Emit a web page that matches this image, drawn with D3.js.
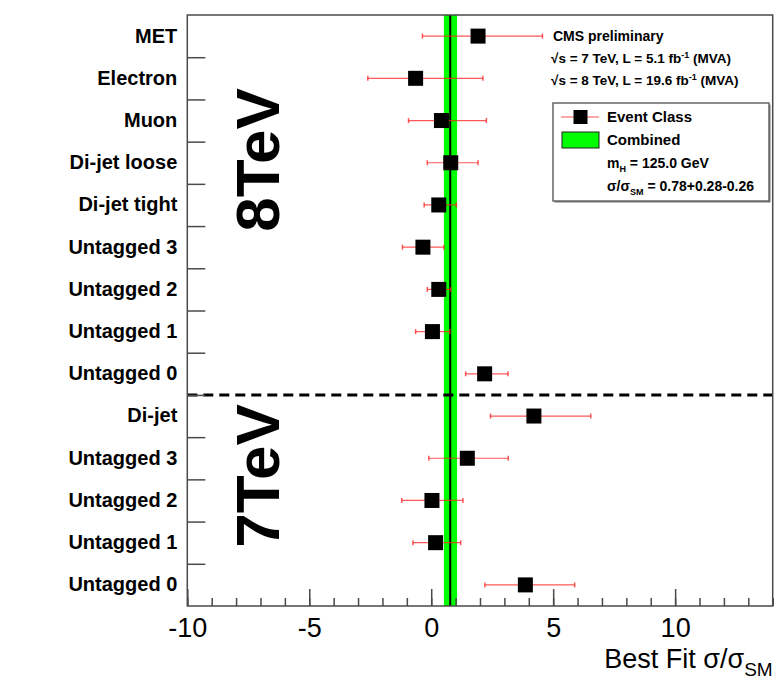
<!DOCTYPE html>
<html>
<head>
<meta charset="utf-8">
<script src="https://cdn.jsdelivr.net/npm/d3@7"></script>
<style>
  html, body { margin: 0; padding: 0; background: #fff; }
  svg { display: block; font-family: "Liberation Sans", Arial, Helvetica, sans-serif; }
</style>
</head>
<body>
<div id="chart"></div>
<script>
/* Best-fit signal strength per event class, 8 TeV block on top, 7 TeV below */
var categories = ['MET', 'Electron', 'Muon', 'Di-jet loose', 'Di-jet tight',
  'Untagged 3', 'Untagged 2', 'Untagged 1', 'Untagged 0',
  'Di-jet', 'Untagged 3', 'Untagged 2', 'Untagged 1', 'Untagged 0'];
var bestFit = [1.92, -0.64, 0.42, 0.80, 0.31, -0.34, 0.31, 0.05, 2.19,
  4.21, 1.48, 0.03, 0.18, 3.86];
var errLow = [-0.36, -2.60, -0.93, -0.16, -0.29, -1.18, -0.16, -0.64, 1.41,
  2.43, -0.10, -1.21, -0.75, 2.20];
var errHigh = [4.56, 2.12, 2.26, 1.92, 1.03, 0.52, 0.80, 0.76, 3.15,
  6.54, 3.16, 1.30, 1.21, 5.88];
var n8TeV = 9;
var combined = { value: 0.78, up: 0.28, down: 0.26 };
var xDomain = [-10, 14];
var majorTicks = [-10, -5, 0, 5, 10];
var majorLabels = ['-10', '-5', '0', '5', '10'];
var minorTicks = d3.range(-10, 15, 1);

(function () {
  'use strict';
  var W = 780, H = 697;
  var m = { top: 15, right: 7.3, bottom: 91, left: 187.3 };
  var iw = W - m.left - m.right, ih = H - m.top - m.bottom;
  var FRAME = '#4a4a4a';

  var svg = d3.select('#chart').append('svg').attr('width', W).attr('height', H);
  var g = svg.append('g').attr('transform', 'translate(' + m.left + ',' + m.top + ')');

  var x = d3.scaleLinear().domain(xDomain).range([0, iw]);
  var idx = d3.range(categories.length);
  var y = d3.scaleBand().domain(idx).range([0, ih]);
  var yb = d3.scaleLinear().domain([0, categories.length]).range([0, ih]);

  /* combined band */
  g.append('rect')
    .attr('x', x(combined.value - combined.down)).attr('y', 0)
    .attr('width', x(combined.value + combined.up) - x(combined.value - combined.down))
    .attr('height', ih).attr('fill', '#00ff00');
  g.append('line')
    .attr('x1', x(combined.value)).attr('x2', x(combined.value))
    .attr('y1', 0).attr('y2', ih)
    .attr('stroke', '#000').attr('stroke-width', 2);

  /* 8TeV / 7TeV separator */
  g.append('line')
    .attr('x1', 0).attr('x2', iw)
    .attr('y1', yb(n8TeV)).attr('y2', yb(n8TeV))
    .attr('stroke', '#000').attr('stroke-width', 3).attr('stroke-dasharray', '10,6');

  /* big energy labels */
  var bigX = 279 - m.left;
  g.append('text')
    .attr('transform', 'translate(' + bigX + ',' + (160 - m.top) + ') rotate(-90)')
    .attr('text-anchor', 'middle')
    .style('font-size', '62px').style('font-weight', 'bold')
    .text('8TeV');
  g.append('text')
    .attr('transform', 'translate(' + bigX + ',' + (476 - m.top) + ') rotate(-90)')
    .attr('text-anchor', 'middle')
    .style('font-size', '62px').style('font-weight', 'bold')
    .text('7TeV');

  /* error bars */
  var pts = g.append('g').selectAll('g').data(idx).enter().append('g')
    .attr('transform', function (i) { return 'translate(0,' + (y(i) + y.bandwidth() / 2) + ')'; });
  pts.append('line')
    .attr('x1', function (i) { return x(errLow[i]); })
    .attr('x2', function (i) { return x(errHigh[i]); })
    .attr('stroke', '#ff2020').attr('stroke-opacity', 0.75).attr('stroke-width', 1.2);
  pts.append('line')
    .attr('x1', function (i) { return x(errLow[i]); })
    .attr('x2', function (i) { return x(errLow[i]); })
    .attr('y1', -2.5).attr('y2', 2.5)
    .attr('stroke', '#ff2020').attr('stroke-opacity', 0.75).attr('stroke-width', 1.5);
  pts.append('line')
    .attr('x1', function (i) { return x(errHigh[i]); })
    .attr('x2', function (i) { return x(errHigh[i]); })
    .attr('y1', -2.5).attr('y2', 2.5)
    .attr('stroke', '#ff2020').attr('stroke-opacity', 0.75).attr('stroke-width', 1.5);
  pts.append('rect')
    .attr('x', function (i) { return x(bestFit[i]) - 7.5; })
    .attr('y', -7.5).attr('width', 15).attr('height', 15)
    .attr('fill', '#000');

  /* x axis: major and minor ticks pointing inward */
  var xMajor = g.append('g').attr('transform', 'translate(0,' + ih + ')')
    .call(d3.axisBottom(x).tickValues(majorTicks).tickSize(-17).tickPadding(12)
      .tickFormat(function (d, i) { return majorLabels[i]; }));
  var xMinor = g.append('g').attr('transform', 'translate(0,' + ih + ')')
    .call(d3.axisBottom(x).tickValues(minorTicks).tickSize(-8).tickFormat(''));
  [xMajor, xMinor].forEach(function (a) {
    a.select('.domain').remove();
    a.selectAll('.tick line').attr('stroke', FRAME).attr('stroke-width', 1.5);
  });
  xMajor.selectAll('.tick text')
    .style('font-size', '27px').attr('fill', '#000');

  /* y axis: category labels and boundary ticks */
  var yLab = g.append('g')
    .call(d3.axisLeft(y).tickSize(0).tickPadding(10)
      .tickFormat(function (i) { return categories[i]; }));
  yLab.select('.domain').remove();
  yLab.selectAll('.tick text')
    .style('font-size', '20px').style('font-weight', 'bold').attr('fill', '#000');
  var yTick = g.append('g')
    .call(d3.axisLeft(yb).tickValues(d3.range(1, categories.length)).tickSize(-18).tickFormat(''));
  yTick.select('.domain').remove();
  yTick.selectAll('.tick line').attr('stroke', FRAME).attr('stroke-width', 1.5);

  /* frame */
  g.append('rect').attr('width', iw).attr('height', ih)
    .attr('fill', 'none').attr('stroke', FRAME).attr('stroke-width', 1.5);

  /* axis title */
  var title = svg.append('text')
    .attr('x', W - m.right).attr('y', 668)
    .attr('text-anchor', 'end')
    .style('font-size', '27px');
  title.append('tspan').text('Best Fit \u03c3/\u03c3');
  title.append('tspan').attr('dy', 8).style('font-size', '19px').text('SM');

  /* header text */
  var tx = 551;
  svg.append('text').attr('x', tx + 2).attr('y', 41)
    .style('font-size', '14px').style('font-weight', 'bold').text('CMS preliminary');
  [['7', '5.1'], ['8', '19.6']].forEach(function (r, k) {
    var t = svg.append('text').attr('x', tx).attr('y', 63 + k * 21.5)
      .style('font-size', '13.5px').style('font-weight', 'bold');
    t.append('tspan').text('\u221as = ' + r[0] + ' TeV, L = ' + r[1] + ' fb');
    t.append('tspan').attr('dy', -5).style('font-size', '9px').text('-1');
    t.append('tspan').attr('dy', 5).text(' (MVA)');
  });

  /* legend */
  var lg = svg.append('g').attr('transform', 'translate(553,103)');
  lg.append('rect').attr('x', 1.5).attr('y', 1.5).attr('width', 216).attr('height', 98)
    .attr('fill', '#777');
  lg.append('rect').attr('width', 216).attr('height', 98)
    .attr('fill', '#fff').attr('stroke', '#666').attr('stroke-width', 1.5);
  lg.append('line').attr('x1', 8).attr('x2', 46).attr('y1', 14).attr('y2', 14)
    .attr('stroke', '#ff2020').attr('stroke-opacity', 0.8).attr('stroke-width', 1.2);
  lg.append('rect').attr('x', 20.5).attr('y', 7).attr('width', 14).attr('height', 14).attr('fill', '#000');
  lg.append('rect').attr('x', 9).attr('y', 29).attr('width', 37).attr('height', 16)
    .attr('fill', '#00ff00').attr('stroke', '#222').attr('stroke-width', 1);
  var legText = [
    { y: 19, parts: [['Event Class']] },
    { y: 42, parts: [['Combined']] },
    { y: 65, parts: [['m'], ['H', 'sub'], [' = 125.0 GeV']] },
    { y: 88, parts: [['\u03c3/\u03c3'], ['SM', 'sub'], [' = 0.78+0.28-0.26']] }
  ];
  legText.forEach(function (row, k) {
    var t = lg.append('text').attr('x', 54).attr('y', row.y)
      .style('font-size', k < 2 ? '15px' : '14px').style('font-weight', 'bold');
    var shift = 0;
    row.parts.forEach(function (p) {
      var s = t.append('tspan').text(p[0]);
      if (p[1] === 'sub') { s.attr('dy', 4).style('font-size', '9px'); shift = 4; }
      else if (shift) { s.attr('dy', -shift); shift = 0; }
    });
  });
})();
</script>
</body>
</html>
